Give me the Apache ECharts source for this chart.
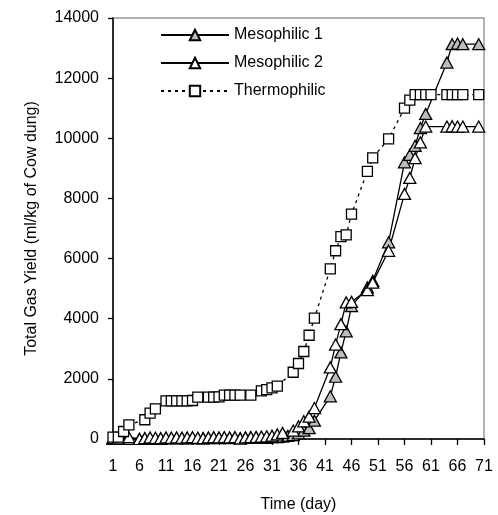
<!DOCTYPE html>
<html>
<head>
<meta charset="utf-8">
<script src="https://cdn.jsdelivr.net/npm/echarts@6/dist/echarts.min.js"></script>
<style>
  html, body { margin: 0; padding: 0; background: #fff; }
  #chart { width: 498px; height: 515px; }
</style>
</head>
<body>
<div id="chart"></div>
<script>
// x ticks (day)
const dayTicks = [1, 6, 11, 16, 21, 26, 31, 36, 41, 46, 51, 56, 61, 66, 71]

// Mesophilic 1 (grey triangles)
const meso1Days = [1, 2, 4, 6, 7, 8, 9, 10, 11, 12, 13, 14, 15, 16, 17, 18, 19, 20, 21, 22, 23, 24, 25, 26, 27, 28, 29, 30, 31, 32, 33, 34, 35,
  36, 37, 38, 39, 42, 43, 44, 45, 46, 49, 50, 53, 56, 57, 58, 59, 60, 64, 65, 66, 67, 70]
const meso1 = [0, 0, 0, 0, 10, 0, 20, 0, 20, 30, 20, 30, 20, 30, 30, 20, 30, 40, 30, 40, 30, 40, 20, 40, 50, 40, 50, 40, 60, 60, 80, 100, 130,
  190, 280, 360, 610, 1420, 2070, 2880, 3580, 4420, 5040, 5260, 6540, 9200, 9450, 9750, 10340, 10810, 12520, 13130, 13150, 13130, 13130]

// Mesophilic 2 (white triangles)
const meso2Days = [1, 2, 4, 6, 7, 8, 9, 10, 11, 12, 13, 14, 15, 16, 17, 18, 19, 20, 21, 22, 23, 24, 25, 26, 27, 28, 29, 30, 31, 32, 33, 35,
  36, 37, 38, 39, 42, 43, 44, 45, 46, 49, 50, 53, 56, 57, 58, 59, 60, 64, 65, 66, 67, 70]
const meso2 = [40, 20, 60, 0, 30, 50, 40, 30, 50, 40, 50, 40, 50, 60, 40, 30, 50, 60, 50, 60, 50, 60, 20, 50, 60, 70, 80, 90, 110, 150, 200, 280,
  420, 590, 740, 1030, 2380, 3140, 3820, 4540, 4560, 4950, 5200, 6260, 8150, 8680, 9340, 9860, 10390, 10390, 10400, 10390, 10390, 10390]

// Thermophilic (white squares, dotted)
const thermoDays = [1, 2, 3, 4, 7, 8, 9, 11, 12, 13, 14, 15, 16, 17, 19, 20, 21, 22, 23, 24, 25, 27, 29, 30, 31, 32,
  35, 36, 37, 38, 39, 42, 43, 44, 45, 46, 49, 50, 53, 56, 57, 58, 59, 60, 61, 64, 65, 66, 67, 70]
const thermo = [60, 60, 250, 470, 640, 860, 1000, 1270, 1270, 1270, 1270, 1270, 1280, 1390, 1390, 1390, 1400, 1460, 1460, 1460, 1460, 1460, 1600, 1640, 1700, 1760,
  2220, 2510, 2910, 3450, 4020, 5660, 6260, 6730, 6790, 7480, 8900, 9350, 9980, 11000, 11270, 11450, 11450, 11450, 11450, 11450, 11450, 11450, 11450, 11450]

const pairs = (xs, ys) => xs.map((x, i) => [x, ys[i]])

const FONT = 'Liberation Sans, Arial, sans-serif'
const chart = echarts.init(document.getElementById('chart'), null, { renderer: 'canvas' })

function lineSeries(name, data, symbol, size, fill, dash) {
  return {
    name, type: 'line', data, symbol, symbolSize: size,
    showAllSymbol: true, animation: false,
    lineStyle: { color: '#000', width: 1.3, type: dash || 'solid' },
    itemStyle: { color: fill, borderColor: '#000', borderWidth: 1.3 },
    emphasis: { disabled: true },
  }
}

chart.setOption({
  animation: false,
  grid: {
    left: 113, right: 14, top: 18, bottom: 76, outerBoundsMode: 'none',
    show: true, borderColor: '#999', borderWidth: 1.5,
  },
  legend: {
    orient: 'vertical', left: 155, top: 22, itemWidth: 68, itemHeight: 13, itemGap: 12,
    textStyle: { fontFamily: FONT, fontSize: 16, color: '#000' },
    data: ['Mesophilic 1', 'Mesophilic 2', 'Thermophilic'],
  },
  xAxis: {
    type: 'value', min: 1, max: 71,
    name: 'Time (day)', nameLocation: 'middle', nameGap: 58,
    nameTextStyle: { fontFamily: FONT, fontSize: 16, color: '#000' },
    axisLine: { lineStyle: { color: '#000', width: 1.5 } },
    axisTick: { customValues: dayTicks, length: 6, lineStyle: { color: '#000', width: 1.3 } },
    axisLabel: { customValues: dayTicks, margin: 20, fontFamily: FONT, fontSize: 16, color: '#000' },
    splitLine: { show: false },
  },
  yAxis: {
    type: 'value', min: 0, max: 14000, interval: 2000,
    name: 'Total Gas Yield (ml/kg of Cow dung)', nameLocation: 'middle', nameGap: 73,
    nameTextStyle: { fontFamily: FONT, fontSize: 16, color: '#000' },
    axisLine: { show: true, lineStyle: { color: '#000', width: 1.5 } },
    axisTick: { show: true, length: 5, lineStyle: { color: '#000', width: 1.3 } },
    axisLabel: { margin: 14, fontFamily: FONT, fontSize: 16, color: '#000', formatter: (v) => String(v) },
    splitLine: { show: false },
  },
  series: [
    lineSeries('Mesophilic 1', pairs(meso1Days, meso1), 'triangle', [12, 11], '#bdbdbd'),
    lineSeries('Mesophilic 2', pairs(meso2Days, meso2), 'triangle', [12, 11], '#fff'),
    lineSeries('Thermophilic', pairs(thermoDays, thermo), 'rect', 10, '#fff', [3, 4]),
  ],
})
</script>
</body>
</html>
